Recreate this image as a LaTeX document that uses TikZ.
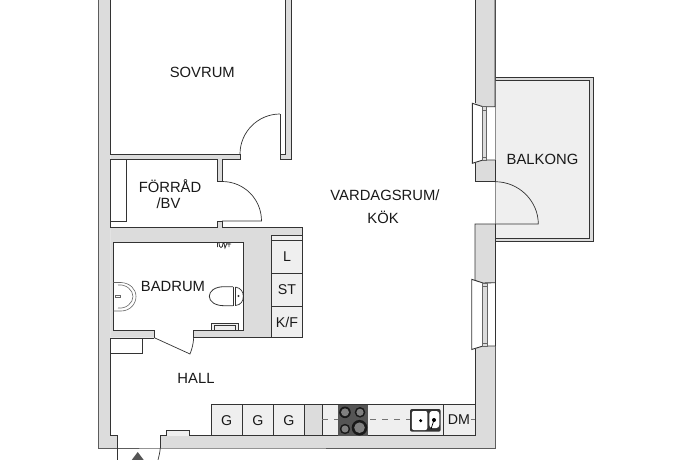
\documentclass[tikz,border=0pt]{standalone}
\usepackage{fontspec}
\setmainfont{Liberation Sans}
\definecolor{wallc}{HTML}{DCDCDC}
\definecolor{cabc}{HTML}{EFEFEF}
\definecolor{linec}{HTML}{333333}
\definecolor{hobc}{HTML}{555555}
\tikzset{
  wall/.style={fill=wallc,draw=none},
  ln/.style={draw=linec,line width=0.9pt},
  thin ln/.style={draw=linec!80,line width=0.6pt},
  cab/.style={fill=cabc,draw=linec,line width=0.8pt},
  room/.style={font=\fontsize{14.8}{15}\selectfont,text=black!90,inner sep=0pt},
  lab/.style={font=\fontsize{14.2}{15}\selectfont,text=black!90,inner sep=0pt}
}
\begin{document}
\begin{tikzpicture}[x=1pt,y=-1pt]
\useasboundingbox (0,0) rectangle (690,460);
\clip (0,0) rectangle (690,460);
\fill[white] (0,0) rectangle (690,460);
% balcony
\path[fill=wallc,draw=linec,line width=0.8pt] (495,77.3) -- (593.3,77.3) -- (593.3,241.7) -- (495,241.7) -- cycle;
\path[fill=cabc] (495,80.7) rectangle (589.5,238.8);
\path[draw=linec,line width=1pt] (495,80.7) -- (589.5,80.7) -- (589.5,238.8) -- (495,238.8);
% walls
\path[wall] (98,0) -- (110.7,0) -- (110.7,435.7) -- (117.3,435.7) -- (117.3,448) -- (98,448) -- cycle;
\path[wall] (110.7,154) rectangle (240,159);
\path[wall] (285,0) -- (291,0) -- (291,159) -- (280,159) -- (280,154) -- (285,154) -- cycle;
\path[wall] (217,159) rectangle (222,181.5);
\path[wall] (217,221.5) rectangle (222,227);
\path[wall] (110.7,227) -- (302.7,227) -- (302.7,337.7) -- (193.7,337.7) -- (193.7,330.3) -- (243.3,330.3) -- (243.3,242.3) -- (113.3,242.3) -- (113.3,330.3) -- (154.3,330.3) -- (154.3,337.7) -- (110.7,337.7) -- cycle;
\path[wall] (160.3,435.7) -- (304.3,435.7) -- (304.3,404.5) -- (322.3,404.5) -- (322.3,435.5) -- (475,435.5) -- (475,0) -- (495,0) -- (495,448) -- (160.3,448) -- cycle;
% openings in right wall
\fill[white] (472.3,103.3) -- (483,106.7) -- (495,106.7) -- (495,160) -- (483,160) -- (472.3,163.3) -- cycle;
\fill[white] (475,181.7) rectangle (494.7,224);
\fill[white] (471.7,279.3) -- (483,283) -- (495,282.7) -- (495,346) -- (483,346) -- (471.7,349.5) -- cycle;
% outer thin lines
\draw[thin ln] (98,0) -- (98,448) -- (117.3,448);
\draw[thin ln] (117.3,448) -- (160.3,448) -- (495,448) -- (495,239);
\draw[thin ln] (495,81) -- (495,0);
\draw[draw=black!45,line width=0.6pt] (495,81) -- (495,239);
% sovrum
\draw[ln] (110.7,0) -- (110.7,154) -- (240,154);
\draw[ln] (285,0) -- (285,154) -- (280,154) -- (280,114);
\draw[ln] (291,0) -- (291,159) -- (280,159) -- (280,154);
\draw[line width=0.7pt,draw=linec] (280,114) .. controls (258,114) and (240,132) .. (240,154);
% forråd
\draw[ln] (110.7,159) -- (217,159) -- (217,181.5) -- (222,181.5) -- (222,159) -- (240,159) -- (240,154);
\draw[ln] (110.7,159) -- (110.7,227) -- (217,227) -- (217,221.5) -- (222,221.5) -- (222,227) -- (302.7,227) -- (302.7,337.7);
\draw[ln] (126,159) -- (126,221.7) -- (110.7,221.7);
\draw[line width=0.7pt,draw=linec] (222,181.5) .. controls (244,181.5) and (261.5,199) .. (261.5,221) -- (222,221);
% badrum
\draw[ln] (154.3,337.7) -- (154.3,330.3) -- (113.3,330.3) -- (113.3,242.3) -- (243.3,242.3) -- (243.3,330.3) -- (193.7,330.3) -- (193.7,337.7);
\draw[ln] (110.7,338) -- (154.3,338);
\draw[ln] (193.7,337.7) -- (302.7,337.7);
\draw[line width=0.7pt,draw=linec] (154.3,337.7) -- (190,354) .. controls (192,349) and (193.3,344) .. (193.7,337.7);
% bathroom fixtures
\draw[line width=0.6pt,draw=black!60] (113.3,282.5) -- (121,282.5) .. controls (130,283) and (136,289) .. (136,296.5) .. controls (136,304) and (130,311) .. (121,311) -- (113.3,311);
\draw[line width=0.6pt,draw=black!60] (118,285) .. controls (126,284) and (133,290) .. (133,296.5) .. controls (133,303) and (126,309) .. (118,308);
\draw[line width=0.5pt,draw=black!60] (115.5,295.5) rectangle (120.5,297.5);
\draw[line width=0.8pt,draw=linec] (233,286.7) -- (224,286.7) .. controls (215,286.7) and (209.3,291) .. (209.3,296.2) .. controls (209.3,301.5) and (215,305.7) .. (224,305.7) -- (233,305.7);
\draw[line width=0.7pt,draw=linec] (233,287) -- (233,305.5) (235.5,287) -- (235.5,305.5);
\draw[line width=0.7pt,draw=linec] (235.5,287) .. controls (241,288) and (243.3,292) .. (243.3,296.2) .. controls (243.3,301) and (241,305) .. (235.5,305.5);
\fill[linec] (238.5,296) circle[radius=1.1];
\draw[line width=0.8pt,draw=linec] (217.5,243) -- (217.5,247) (219,243) .. controls (219,249) and (223,249) .. (223,243) (224,243) -- (225,248) -- (227,243) (227,244) -- (231,244) (229,243) -- (229,247);
\path[cab,line width=0.8pt] (211.3,330.3) -- (211.3,323.3) -- (238.3,323.3) -- (238.3,330.3);
\draw[line width=0.7pt,draw=linec] (214,330.3) -- (214,325.7) -- (235.7,325.7) -- (235.7,330.3);
% cupboards
\path[cab] (271.7,235) rectangle (302.7,240);
\path[cab] (271.7,240) rectangle (302.7,273.3);
\path[cab] (271.7,273.3) rectangle (302.7,306.7);
\path[cab] (271.7,306.7) rectangle (302.7,337.7);
\node[lab] (lblL) at (287,256.5) {L};
\node[lab] (lblST) at (287,290) {ST};
\node[lab] (lblKF) at (287,322) {K/F};
% hall
\draw[ln] (110.7,338) -- (110.7,435.7) -- (117.3,435.7) -- (117.3,460);
\draw[line width=0.7pt,draw=linec] (110.7,353.3) -- (142,353.3) -- (142,338);
\draw[ln] (160.3,448) -- (160.3,435.7) -- (322.3,435.7);
\draw[line width=0.7pt,draw=linec] (160.3,448) .. controls (160,452) and (159,456) .. (158,460);
\path[cab] (166.3,435.7) -- (166.3,430.3) -- (189.3,430.3) -- (189.3,435.7);
\fill[hobc] (137.7,452) -- (144.5,461) -- (131,461) -- cycle;
% wardrobes
\path[cab] (211,404.7) rectangle (242.3,435.7);
\path[cab] (242.3,404.7) rectangle (273.3,435.7);
\path[cab] (273.3,404.7) rectangle (304.3,435.7);
\draw[ln] (304.3,404.7) -- (322.3,404.7);
\node[lab] (lblG1) at (226.7,420.5) {G};
\node[lab] (lblG2) at (257.8,420.5) {G};
\node[lab] (lblG3) at (288.8,420.5) {G};
% kitchen
\path[cab] (322.3,404.5) rectangle (443.3,435.5);
\path[cab] (443.3,404.5) rectangle (475,435.5);
\draw[draw=black!55,line width=0.8pt,dash pattern=on 6pt off 6pt] (322.3,419.5) -- (410,419.5);
\draw[draw=black!55,line width=0.8pt] (470.5,419.5) -- (475,419.5);
\node[lab] (lblDM) at (459,420) {DM};
\fill[hobc] (337.7,404.5) rectangle (368.3,435.5);
\foreach \cx/\cy/\rr in {345/412.3/5.8,360/412.3/5.3,345/429/5.2,359.5/427.7/7.8}{
  \fill[black!90] (\cx,\cy) circle[radius=\rr];
  \fill[black!50] (\cx,\cy) circle[radius=\rr*0.68];
}
\fill[black!80,rounded corners=2pt] (410,409) rectangle (440.7,431.7);
\fill[white,rounded corners=2pt] (411.8,411) rectangle (427.3,430);
\fill[white,rounded corners=3pt] (429.3,411) rectangle (439.3,428);
\fill[black] (420.7,420.7) circle[radius=1.7];
\fill[black] (434,420) circle[radius=2];
\draw[black,line width=0.7pt] (434,420) -- (431,429);
% window 1
\draw[ln] (475,0) -- (475,103.3);
\draw[ln] (495,0) -- (495,106.7) -- (483,106.7) -- (472.3,103.3) -- (472.3,163.3) -- (483,160) -- (495,160);
\draw[line width=0.7pt,draw=black!60,fill=wallc] (482.3,106.7) rectangle (486.7,160);
\draw[line width=0.6pt,draw=black!60] (482.3,110) -- (486.7,110) (482.3,157) -- (486.7,157);
% balcony door
\draw[ln] (475,162.5) -- (475,181.7) -- (495,181.7);
\draw[line width=0.7pt,draw=linec] (495,181.7) .. controls (519,181.7) and (538.3,201) .. (538.3,224) -- (475,224) -- (475,279.8);
\draw[ln] (495,160) -- (495,181.7);
\draw[ln] (495,224) -- (495,282.7);
% window 2
\draw[ln] (495,282.7) -- (483,283) -- (471.7,279.3) -- (471.7,349.5) -- (483,346) -- (495,346);
\draw[line width=0.7pt,draw=black!60,fill=wallc] (482.3,283) rectangle (487,346);
\draw[line width=0.6pt,draw=black!60] (482.3,286) -- (487,286) (482.3,343) -- (487,343);
\draw[ln] (495,282.7) -- (495,346);
\draw[ln] (475,349) -- (475,404.5);
% labels
\node[room] (sovrum) at (202.3,72.5) {SOVRUM};
\node[room] (forrad) at (170,186) {FÖRRÅD};
\node[room] (bv) at (168.5,203) {/BV};
\node[room] (badrum) at (173,286.5) {BADRUM};
\node[room] (hall) at (196,378) {HALL};
\node[room] (vard) at (385,195) {VARDAGSRUM/};
\node[room] (kok) at (383,217.5) {KÖK};
\node[room] (balkong) at (542.5,159.5) {BALKONG};
\end{tikzpicture}
\end{document}
